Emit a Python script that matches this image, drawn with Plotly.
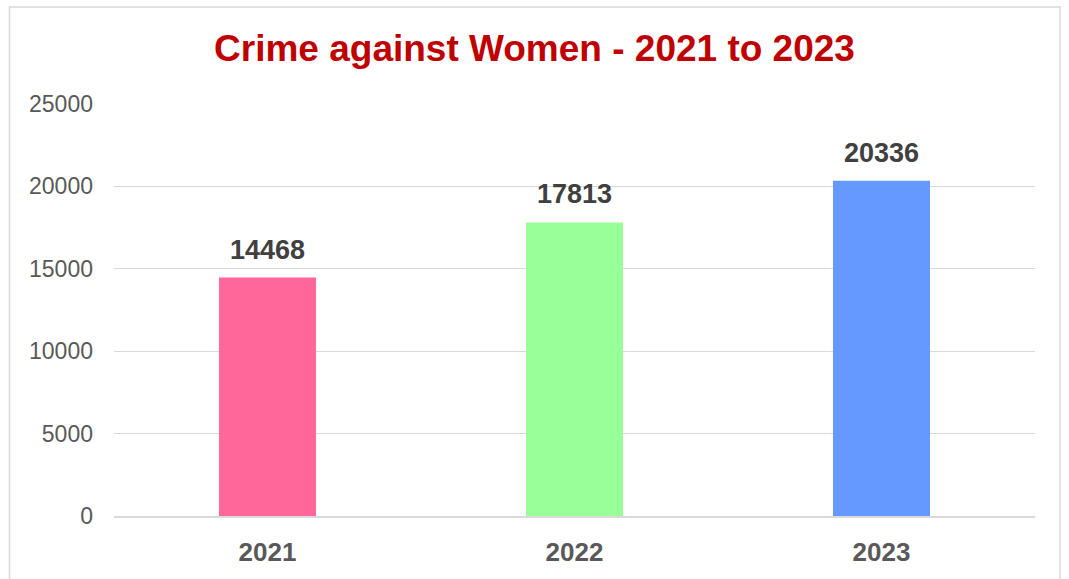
import plotly.graph_objects as go

years = ["2021", "2022", "2023"]
values = [14468, 17813, 20336]
colors = ["#FF6699", "#99FF99", "#6699FF"]
y_ticks = [0, 5000, 10000, 15000, 20000, 25000]
y_tick_text = [str(v) for v in y_ticks]

fig = go.Figure(go.Bar(
    x=years, y=values, marker_color=colors, marker_line_width=0,
    cliponaxis=False, hoverinfo="x+y",
))

# category axis: annotations positioned by category serial index
for i, v in enumerate(values):
    fig.add_annotation(x=i, y=v, text=f"<b>{v}</b>", showarrow=False,
                       yanchor="bottom", yshift=11,
                       font=dict(family="Liberation Sans, Arial", size=27, color="#404040"))

L, R, T, B = 114, 34, 104, 61
W, H = 1069, 579
pw, ph = W - L - R, H - T - B

fig.update_layout(
    width=W, height=H,
    margin=dict(l=L, r=R, t=T, b=B),
    paper_bgcolor="white", plot_bgcolor="white",
    bargap=0.684,
    showlegend=False,
    title=dict(text="<b>Crime against Women - 2021 to 2023</b>", x=0.5, xanchor="center",
               y=1 - 48 / H, yanchor="middle",
               font=dict(family="Liberation Sans, Arial", size=37, color="#C00000")),
    font=dict(family="Liberation Sans, Arial"),
    xaxis=dict(type="category", showgrid=False, showline=True, linecolor="#D9D9D9", linewidth=2,
               ticks="", ticklabelstandoff=12,
               tickfont=dict(size=26, color="#595959", weight="bold")),
    yaxis=dict(range=[0, 25000], tickvals=y_ticks, ticktext=y_tick_text,
               showgrid=True, gridcolor="#D9D9D9",
               gridwidth=1, zeroline=False, showline=False, ticks="",
               ticklabelstandoff=20,
               tickfont=dict(size=23, color="#595959")),
    shapes=[dict(type="rect", xref="paper", yref="paper",
                 x0=(9.5 - L) / pw, x1=(1060 - L) / pw,
                 y0=(T + ph - 620) / ph, y1=(T + ph - 6.5) / ph,
                 line=dict(color="#D9D9D9", width=1.5), fillcolor="rgba(0,0,0,0)",
                 layer="below")],
)

fig.write_html("out.html", config={"displayModeBar": False},
               post_script="document.body.style.margin='0';document.body.style.overflow='hidden';")
